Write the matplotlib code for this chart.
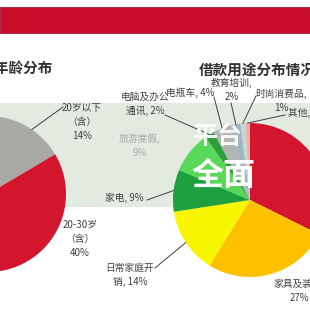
import matplotlib
matplotlib.use("Agg")
import numpy as np
import matplotlib.pyplot as plt
from matplotlib.patches import Rectangle

plt.rcParams['font.family'] = ['Noto Sans CJK SC', 'DejaVu Sans']

# age distribution (left pie, only two slices visible; rest estimated)
age_labels = ['20岁以下\n（含）\n14%', '20-30岁\n（含）\n40%', '30岁以上']
age_values = [14, 40, 46]
age_colors = ['#a9aaa6', '#d3152e', '#8c1020']

# loan purpose (right pie, clockwise from 12 o'clock)
use_labels = ['装修', '家具及装修,\n27%', '日常家庭开\n销, 14%', '家电, 9%',
              '旅游度假,\n9%', '电脑及办公\n通讯, 2%', '电瓶车, 4%',
              '教育培训,\n2%', '时尚消费品,\n1%', '其他, 1%']
use_values = [33, 27, 14, 9, 9, 2, 4, 2, 1, 1]
use_colors = ['#d3152e', '#ffc000', '#f7f500', '#1ea040', '#58d858',
              '#2e9e3a', '#b2b6b2', '#9fb7c2', '#c9d5da', '#e8b6a6']

W = H = 310


def py(y):
    # pixel row (from top) -> data y
    return H - y


def edge_point(w):
    mid = np.deg2rad((w.theta1 + w.theta2) / 2)
    return w.center[0] + w.r * np.cos(mid), w.center[1] + w.r * np.sin(mid)


fig = plt.figure(figsize=(3.1, 3.1), dpi=100)
ax = fig.add_axes([0, 0, 1, 1])

# red header band and light watermark band
ax.add_patch(Rectangle((0, py(33)), W, 26, facecolor='#c80c2a',
                       edgecolor='#a8304c', linewidth=0.8, zorder=1))
ax.add_patch(Rectangle((0, py(207)), W, 104, facecolor='#e3ebe1',
                       edgecolor='none', zorder=0))

left_w, _ = ax.pie(age_values, colors=age_colors, startangle=81,
                   counterclock=False, radius=78, center=(-12, py(194)),
                   wedgeprops=dict(linewidth=0), frame=True)
right_w, _ = ax.pie(use_values, colors=use_colors, startangle=90,
                    counterclock=False, radius=77, center=(250, py(200)),
                    wedgeprops=dict(linewidth=0), frame=True)
for w in left_w + right_w:
    w.set_zorder(2)

ax.set_xlim(0, W)
ax.set_ylim(0, H)
ax.set_aspect('equal')
ax.axis('off')

# titles
ax.text(53, py(68), '借款人年龄分布', ha='right', va='center', fontsize=10.5,
        fontweight='bold', color='#333333', zorder=5)
ax.text(199, py(70), '借款用途分布情况', ha='left', va='center', fontsize=10.5,
        fontweight='bold', color='#333333', zorder=5)

txt = dict(fontsize=7, color='#404040', zorder=5, ha='center', va='center')
line = dict(color='#404040', linewidth=0.7, zorder=4)

# left pie labels
ax.text(82, py(122), age_labels[0], linespacing=1.55, **txt)
ax.text(80, py(239), age_labels[1], linespacing=1.55, **txt)
x0, y0 = edge_point(left_w[0])
ax.plot([63, x0], [py(107), y0], **line)

# right pie labels: text anchor, horizontal alignment, line start
label_pos = {
    1: ((299, py(291)), 'center', None),
    2: ((130, py(275)), 'center', (155, py(268))),
    3: ((124, py(198)), 'center', (147, py(200))),
    4: ((140, py(146)), 'center', None),
    5: ((145, py(104)), 'center', (165, py(115))),
    6: ((190, py(93)), 'center', (214, py(97))),
    7: ((232, py(90)), 'center', (231, py(103))),
    8: ((281, py(101)), 'center', (256, py(96))),
    9: ((288, py(113)), 'left', (285, py(115))),
}
for i, ((tx, ty), ha, start) in label_pos.items():
    color = '#a8aca8' if i == 4 else '#404040'
    kw = dict(txt, color=color, ha=ha)
    ax.text(tx, ty, use_labels[i], linespacing=1.5, **kw)
    if start is not None:
        ex, ey = edge_point(right_w[i])
        ax.plot([start[0], ex], [start[1], ey], **line)

# watermark text
ax.text(218, py(137), '平台', ha='center', va='center', fontsize=18,
        fontweight='bold', color='white', alpha=0.9, zorder=6)
ax.text(223, py(176), '全面', ha='center', va='center', fontsize=23,
        fontweight='bold', color='white', zorder=6)

fig.savefig('out.png', dpi=100, facecolor='white')
